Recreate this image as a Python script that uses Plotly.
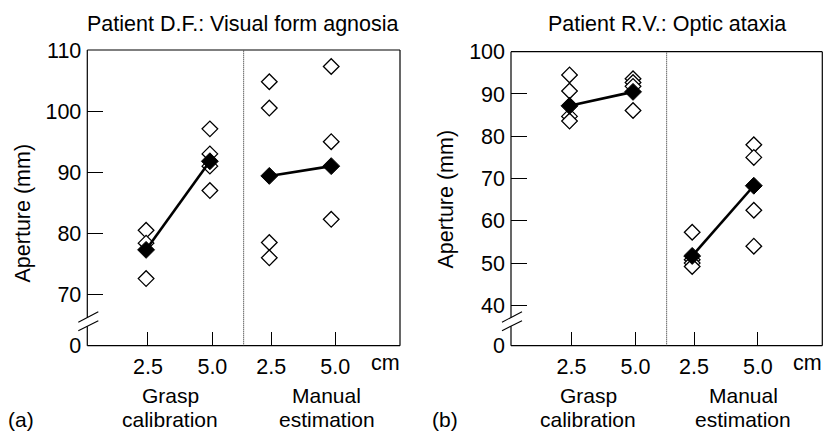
import plotly.graph_objects as go

W, H = 823, 431

# ---------------- data ----------------
tick_labels = ["2.5", "5.0", "2.5", "5.0"]
unit_label = "cm"
group_labels = [["Grasp", "calibration"], ["Manual", "estimation"]]

# Patient D.F. (visual form agnosia): individual trials and means (mm)
df_grasp_25 = [80.5, 78.4, 72.6]
df_grasp_50 = [97.1, 93.0, 91.0, 87.0]
df_manual_25 = [104.8, 100.5, 78.5, 76.0]
df_manual_50 = [107.3, 95.0, 82.3]
df_means = [77.3, 91.8, 89.4, 91.0]
df_yticks = [70, 80, 90, 100, 110]

# Patient R.V. (optic ataxia)
rv_grasp_25 = [94.5, 90.7, 84.7, 83.6]
rv_grasp_50 = [93.6, 92.7, 91.8, 86.1]
rv_manual_25 = [57.3, 50.8, 50.0, 49.2]
rv_manual_50 = [78.0, 75.0, 62.5, 54.0]
rv_means = [87.2, 90.5, 51.7, 68.3]
rv_yticks = [40, 50, 60, 70, 80, 90, 100]

break_label = "0"

# ---------------- layout constants ----------------
MARK_X = [1.88, 3.92, 5.82, 7.80]
TICK_X = [1.94, 4.00, 5.88, 7.93]
DIVIDER_X = 5.0
FONT = "Liberation Sans, Arial, Helvetica, sans-serif"
FS = 21.5
FS_GROUP = 21

panels = [
    dict(name="a", trials=[df_grasp_25, df_grasp_50, df_manual_25, df_manual_50],
         means=df_means, yticks=df_yticks, yrange=[61.62, 110],
         px=(87.3, 400.0, 50.0, 345.7),
         title="Patient D.F.: Visual form agnosia", title_x=243,
         ytitle_xy=(22.5, 213), cm_x=385, group_x=[170, 326.7], label="(a)", label_x=21),
    dict(name="b", trials=[rv_grasp_25, rv_grasp_50, rv_manual_25, rv_manual_50],
         means=rv_means, yticks=rv_yticks, yrange=[30.47, 100],
         px=(511.0, 822.3, 51.7, 345.7),
         title="Patient R.V.: Optic ataxia", title_x=666.7,
         ytitle_xy=(445.5, 199), cm_x=807.5, group_x=[588.3, 743.3], label="(b)", label_x=445),
]

fig = go.Figure()
shapes = []
annotations = []

for i, p in enumerate(panels):
    sfx = "" if i == 0 else str(i + 1)
    xa, ya = "x" + sfx, "y" + sfx
    x0p, x1p, y0p, y1p = p["px"]
    wpx, hpx = x1p - x0p, y1p - y0p

    xs, ys = [], []
    for k, vals in enumerate(p["trials"]):
        xs += [MARK_X[k]] * len(vals)
        ys += vals
    fig.add_trace(go.Scatter(
        x=xs, y=ys, mode="markers", xaxis=xa, yaxis=ya, showlegend=False,
        marker=dict(symbol="diamond", size=12, color="white",
                    line=dict(color="black", width=1.3))))
    for seg in (slice(0, 2), slice(2, 4)):
        fig.add_trace(go.Scatter(
            x=MARK_X[seg], y=p["means"][seg], mode="lines+markers",
            xaxis=xa, yaxis=ya, showlegend=False,
            line=dict(color="black", width=2.6),
            marker=dict(symbol="diamond", size=13, color="black",
                        line=dict(color="black", width=1))))

    ymin = p["yrange"][0]
    axis_common = dict(showgrid=False, zeroline=False, showline=False, automargin=False,
                       ticks="inside", tickwidth=1, tickcolor="black",
                       tickfont=dict(family=FONT, size=FS, color="black"))
    fig.update_layout(**{
        "xaxis" + sfx: dict(domain=[x0p / W, x1p / W], range=[0, 10],
                            tickvals=TICK_X, ticktext=tick_labels, ticklen=14,
                            ticklabelstandoff=6, anchor=ya, **axis_common),
        "yaxis" + sfx: dict(domain=[1 - y1p / H, 1 - y0p / H], range=p["yrange"],
                            tickvals=[ymin + 0.01] + p["yticks"],
                            ticktext=[break_label] + [str(v) for v in p["yticks"]],
                            ticklen=16, ticklabelstandoff=5, anchor=xa, **axis_common),
    })

    xr, yr = xa + " domain", ya + " domain"
    line = dict(color="black", width=1.2)

    def fx(px):
        return px / wpx

    def fy(px):
        return px / hpx

    gap_lo, gap_hi = 19.5, 28.2
    for (a0, b0, a1, b1) in [(0, 1, 1, 1), (1, 0, 1, 1), (0, 0, 1, 0),
                             (0, fy(gap_hi), 0, 1), (0, 0, 0, fy(gap_lo))]:
        shapes.append(dict(type="line", xref=xr, yref=yr, x0=a0, y0=b0, x1=a1, y1=b1, line=line))
    for (ya0, ya1) in [(23.5, 34.0), (15.0, 25.0)]:
        shapes.append(dict(type="line", xref=xr, yref=yr, x0=fx(-9), y0=fy(ya0),
                           x1=fx(11), y1=fy(ya1), line=dict(color="black", width=1.1)))
    shapes.append(dict(type="line", xref=xa, yref=yr, x0=DIVIDER_X, x1=DIVIDER_X, y0=0, y1=1,
                       line=dict(color="#222222", width=1, dash="1px,1px")))

    def ann(text, xpx, ypx, angle=0, size=FS):
        annotations.append(dict(text=text, x=xpx / W, y=1 - ypx / H, xref="paper", yref="paper",
                                showarrow=False, textangle=angle, xanchor="center", yanchor="middle",
                                font=dict(family=FONT, size=size, color="black")))

    ann(p["title"], p["title_x"], 24)
    ann("Aperture (mm)", p["ytitle_xy"][0], p["ytitle_xy"][1], angle=-90)
    ann(unit_label, p["cm_x"], 363)
    for gx, (l1, l2) in zip(p["group_x"], group_labels):
        ann(l1, gx, 395, size=FS_GROUP)
        ann(l2, gx, 419.5, size=FS_GROUP)
    ann(p["label"], p["label_x"], 419, size=FS_GROUP)

fig.update_layout(width=W, height=H, margin=dict(l=0, r=0, t=0, b=0),
                  plot_bgcolor="white", paper_bgcolor="white",
                  shapes=shapes, annotations=annotations,
                  font=dict(family=FONT, size=FS, color="black"))

fig.write_html("out.html", config={"displayModeBar": False},
               post_script="document.body.style.margin='0';document.body.style.overflow='hidden';")
